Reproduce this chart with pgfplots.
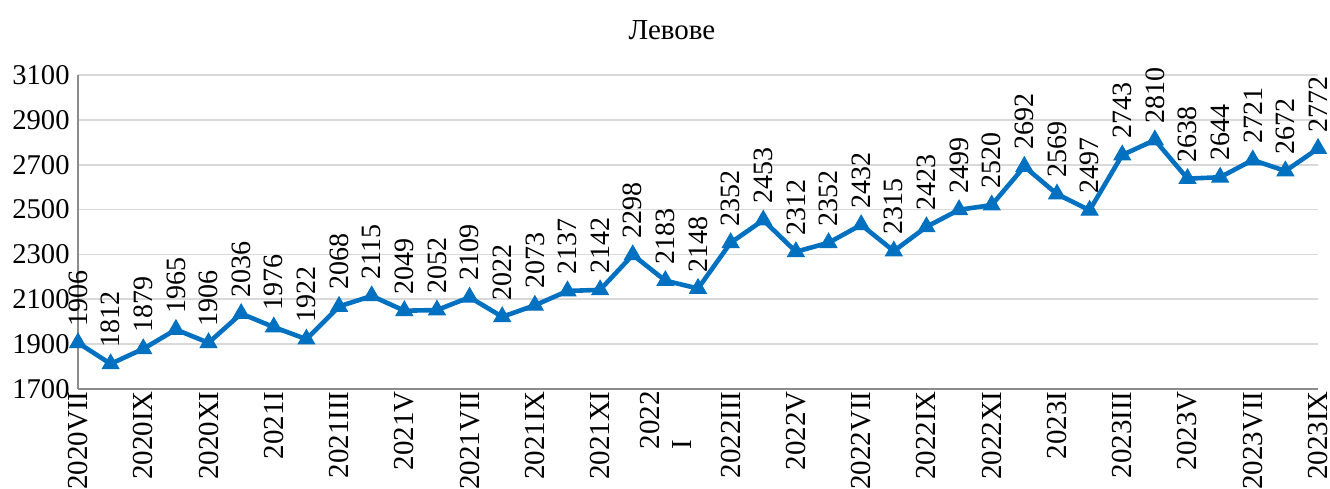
\documentclass[border=0pt]{standalone}
\usepackage{fontspec}
\setmainfont{Liberation Serif}
\usepackage{pgfplots}
\usepackage{pgfplotstable}
\pgfplotsset{compat=1.18}
\definecolor{lineblue}{HTML}{0070C0}
\definecolor{gridgray}{HTML}{D9D9D9}
\definecolor{axisgray}{HTML}{8C8C8C}
\pgfplotstableread{
x y
0 1906
1 1812
2 1879
3 1965
4 1906
5 2036
6 1976
7 1922
8 2068
9 2115
10 2049
11 2052
12 2109
13 2022
14 2073
15 2137
16 2142
17 2298
18 2183
19 2148
20 2352
21 2453
22 2312
23 2352
24 2432
25 2315
26 2423
27 2499
28 2520
29 2692
30 2569
31 2497
32 2743
33 2810
34 2638
35 2644
36 2721
37 2672
38 2772
}\datatable
\begin{document}
\begin{tikzpicture}
\begin{axis}[
  scale only axis, width=620pt, height=157pt,
  xmin=0, xmax=38, ymin=1700, ymax=3100,
  ytick={1700,1900,...,3100},
  xtick={0,2,...,38},
  xticklabels={2020VII,2020IX,2020XI,2021I,2021III,2021V,2021VII,2021IX,2021XI,{2022\\I},2022III,2022V,2022VII,2022IX,2022XI,2023I,2023III,2023V,2023VII,2023IX},
  xticklabel style={rotate=90, anchor=east, align=left, font=\fontsize{14.5}{16}\selectfont, inner sep=1pt},
  yticklabel style={font=\fontsize{14.3}{15}\selectfont, inner sep=1pt, xshift=-3pt},
  /pgf/number format/assume math mode=true,
  /pgf/number format/1000 sep={},
  axis lines=left,
  axis line style={-, draw=axisgray, line width=1pt},
  major tick length=0pt,
  ymajorgrids,
  grid style={gridgray, line width=0.9pt},
  clip=false,
  nodes near coords,
  every node near coord/.append style={font=\fontsize{14}{15}\selectfont, rotate=90, anchor=west, inner xsep=8pt, inner ysep=0pt, text=black},
]
\addplot[lineblue, line width=2.3pt, mark=triangle*, mark size=4.8pt,
  mark options={fill=lineblue, draw=lineblue, line width=0.5pt}] table[x=x,y=y] {\datatable};
\node[font=\fontsize{14.5}{15}\selectfont] at (axis description cs:0.479,1.143) {Левове};
\end{axis}
\pgfresetboundingbox
\useasboundingbox ([shift={(-39pt,-50pt)}]current axis.south west) rectangle ([shift={(6pt,37.5pt)}]current axis.north east);
\end{tikzpicture}
\end{document}
